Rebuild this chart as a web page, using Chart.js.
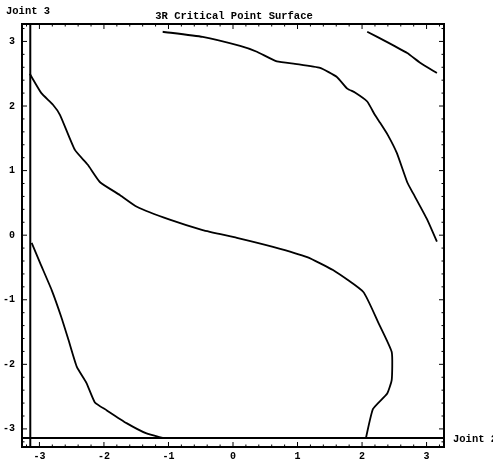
<!DOCTYPE html>
<html>
<head>
<meta charset="utf-8">
<script src="https://cdn.jsdelivr.net/npm/chart.js@4"></script>
<style>
  html, body { margin: 0; padding: 0; background: #fff; }
  #wrap { width: 493px; height: 460px; }
</style>
</head>
<body>
<div id="wrap"><canvas id="c" width="493" height="460"></canvas></div>
<script>
// data (joint 2 -> x, joint 3 -> y)
const tickVals = [-3, -2, -1, 0, 1, 2, 3];
const piLine = -3.1416;

const curveA = [[-3.15, 2.50], [-2.97, 2.20], [-2.79, 2.02], [-2.68, 1.86], [-2.45, 1.32], [-2.25, 1.09],
  [-2.06, 0.82], [-1.75, 0.62], [-1.49, 0.44], [-0.98, 0.24], [-0.47, 0.08], [0.06, -0.04], [0.62, -0.18],
  [1.15, -0.34], [1.55, -0.54], [2.02, -0.88], [2.25, -1.35], [2.46, -1.81], [2.46, -2.24], [2.39, -2.45],
  [2.17, -2.69], [2.06, -3.14]];
const curveB = [[-3.12, -0.12], [-2.99, -0.43], [-2.81, -0.85], [-2.66, -1.27], [-2.55, -1.62], [-2.42, -2.04],
  [-2.27, -2.29], [-2.14, -2.59], [-1.96, -2.71], [-1.65, -2.91], [-1.34, -3.07], [-1.09, -3.14]];
const curveC = [[-1.09, 3.15], [-0.47, 3.07], [0.11, 2.93], [0.37, 2.84], [0.68, 2.69], [0.99, 2.65],
  [1.35, 2.59], [1.61, 2.45], [1.77, 2.27], [1.89, 2.21], [2.08, 2.07], [2.20, 1.86], [2.28, 1.74],
  [2.40, 1.55], [2.54, 1.27], [2.70, 0.82], [2.79, 0.65], [3.01, 0.24], [3.16, -0.10]];
const curveD = [[2.08, 3.15], [2.39, 2.99], [2.70, 2.82], [2.90, 2.67], [3.16, 2.51]];

const xMin = -3.27, xMax = 3.27, yMin = -3.28, yMax = 3.27;

const font = { family: '"Liberation Mono", "DejaVu Sans Mono", monospace', weight: 'bold', size: 10 };

function pts(arr) { return arr.map(p => ({ x: p[0], y: p[1] })); }

function lineSet(data, w) {
    return { data: data, showLine: true, borderColor: '#000', borderWidth: w, pointRadius: 0, tension: 0.15, fill: false };
}

// frame with Mathematica-style ticks + labels
const framePlugin = {
    id: 'frame',
    afterDraw(chart) {
        const c = chart.ctx;
        const a = chart.chartArea;
        const xs = chart.scales.x, ys = chart.scales.y;
        c.save();
        c.strokeStyle = '#000';
        c.lineWidth = 2;
        c.strokeRect(a.left, a.top, a.right - a.left, a.bottom - a.top);

        c.lineWidth = 1;
        c.beginPath();
        for (let i = -16; i <= 16; i++) {
            const v = i / 5;
            const major = i % 5 === 0;
            const len = major ? 5 : 2.5;
            if (v >= xMin && v <= xMax) {
                const px = xs.getPixelForValue(v);
                c.moveTo(px, a.bottom); c.lineTo(px, a.bottom - len);
                c.moveTo(px, a.top); c.lineTo(px, a.top + len);
            }
            if (v >= yMin && v <= yMax) {
                const py = ys.getPixelForValue(v);
                c.moveTo(a.left, py); c.lineTo(a.left + len, py);
                c.moveTo(a.right, py); c.lineTo(a.right - len, py);
            }
        }
        c.stroke();

        c.fillStyle = '#000';
        c.font = 'bold 10.5px "Liberation Mono", "DejaVu Sans Mono", monospace';
        c.textBaseline = 'middle';
        c.textAlign = 'center';
        c.fillText('3R Critical Point Surface', (a.left + a.right) / 2 + 1, 16.5);
        c.textAlign = 'left';
        c.fillText('Joint 3', 6, 11);
        c.fillText('Joint 2', 453, ys.getPixelForValue(piLine) + 1);
        c.restore();
    }
};

new Chart(document.getElementById('c'), {
    type: 'scatter',
    data: {
        datasets: [
            lineSet(pts(curveA), 1.8),
            lineSet(pts(curveB), 1.8),
            lineSet(pts(curveC), 1.8),
            lineSet(pts(curveD), 1.8),
            { data: [{ x: piLine, y: yMin }, { x: piLine, y: yMax }], showLine: true, borderColor: '#000', borderWidth: 2, pointRadius: 0 },
            { data: [{ x: xMin, y: piLine }, { x: xMax, y: piLine }], showLine: true, borderColor: '#000', borderWidth: 2, pointRadius: 0 }
        ]
    },
    options: {
        responsive: false,
        animation: false,
        devicePixelRatio: 1,
        layout: { padding: { left: 0, top: 24, right: 49, bottom: 0 } },
        plugins: { legend: { display: false }, tooltip: { enabled: false } },
        scales: {
            x: {
                type: 'linear', min: xMin, max: xMax,
                grid: { display: false, drawTicks: false },
                border: { display: false },
                afterBuildTicks: s => { s.ticks = tickVals.map(v => ({ value: v })); },
                afterFit: s => { s.height = 13; },
                ticks: { color: '#000', font: font, padding: 3, maxRotation: 0, autoSkip: false }
            },
            y: {
                type: 'linear', min: yMin, max: yMax,
                grid: { display: false, drawTicks: false },
                border: { display: false },
                afterBuildTicks: s => { s.ticks = tickVals.map(v => ({ value: v })); },
                afterFit: s => { s.width = 22; },
                ticks: { color: '#000', font: font, padding: 7, autoSkip: false }
            }
        }
    },
    plugins: [framePlugin]
});
</script>
</body>
</html>
